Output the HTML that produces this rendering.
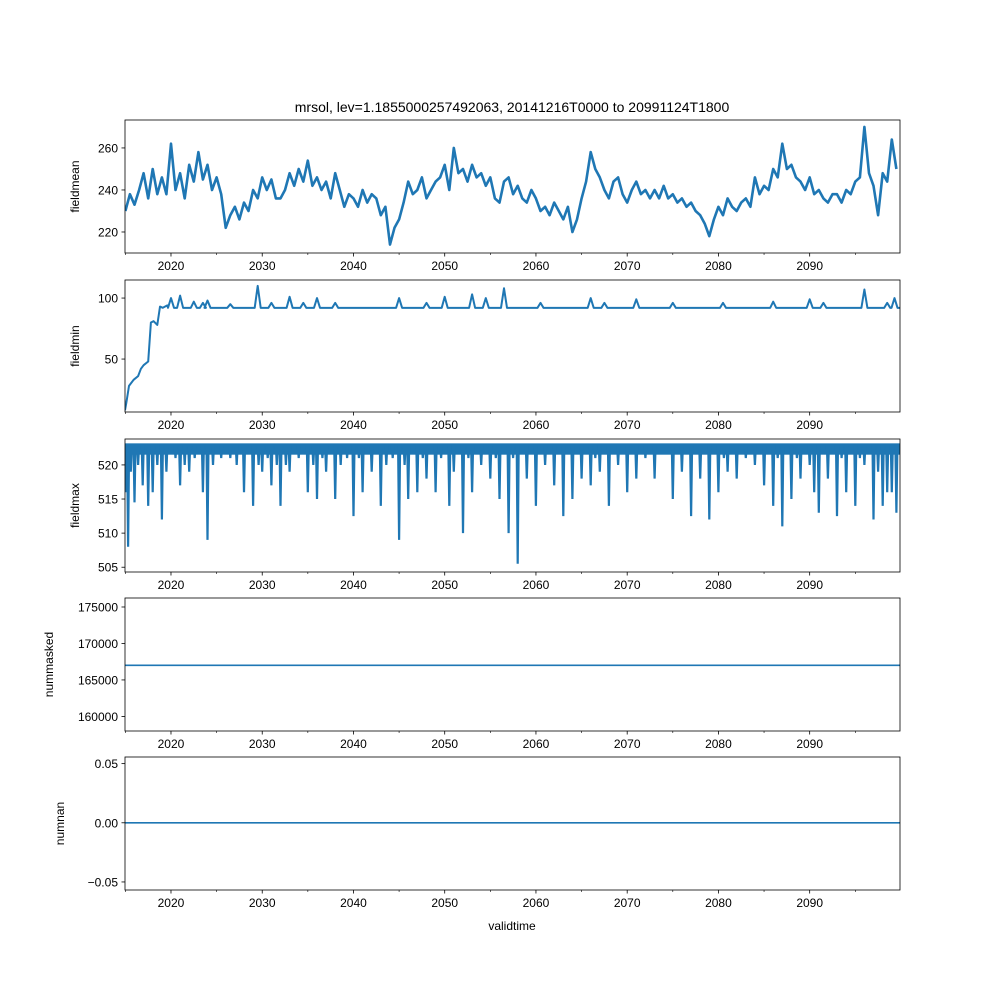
<!DOCTYPE html>
<html><head><meta charset="utf-8"><style>
body{margin:0;background:#fff}
svg{display:block;font-family:"Liberation Sans","DejaVu Sans",sans-serif}
</style></head><body>
<svg id="c" width="1000" height="1000" viewBox="0 0 1000 1000"></svg>
<script>
// ---- data ----
const meanStartYear = 2015.0;
const meanValues = [230,238,233,240,248,236,250,238,246,238,262,240,248,236,252,244,258,245,252,240,246,238,222,228,232,226,234,230,240,236,246,240,245,236,236,240,248,242,250,244,254,242,246,240,244,236,248,240,232,238,236,232,240,234,238,236,228,232,214,222,226,234,244,238,240,246,236,240,244,246,252,240,260,248,250,244,252,246,248,242,246,236,234,244,246,238,242,236,234,240,236,230,232,228,234,230,226,232,220,226,236,244,258,250,246,240,236,244,246,238,234,240,244,238,240,236,240,236,242,236,238,234,236,232,234,230,228,224,218,226,232,228,236,232,230,234,236,232,246,238,242,240,250,246,262,250,252,246,244,240,246,238,240,236,234,238,238,234,240,238,244,246,270,248,242,228,248,244,264,250];
const rampYears = [2014.96,2015.1,2015.4,2015.9,2016.4,2016.7,2017.0,2017.5,2017.8,2018.1,2018.5,2018.8,2019.1,2019.6];
const rampValues = [8,14,28,33,36,42,45,48,80,81,78,93,92,94];
const minBase = 92;
const minSpikeYears = [2020.0,2021.0,2022.5,2023.5,2024.0,2026.5,2029.5,2031.0,2033.0,2034.5,2036.0,2038.0,2045.0,2048.0,2050.0,2053.0,2054.5,2056.5,2060.5,2066.0,2067.5,2071.0,2075.0,2080.5,2086.0,2090.0,2091.5,2096.0,2098.5,2099.3];
const minSpikeValues = [100,102,97,96,98,95,110,96,101,96,100,96,100,96,101,103,100,108,96,100,96,99,96,96,97,99,96,107,96,100];
const maxBase = 523;
const spikeYears = [2015.1,2015.3,2015.6,2016.0,2016.4,2016.9,2017.5,2018.0,2018.5,2019.0,2019.5,2020.5,2021.0,2021.5,2022.0,2022.6,2023.5,2024.0,2024.6,2025.5,2026.5,2027.2,2028.0,2029.0,2029.6,2030.0,2030.6,2031.0,2031.6,2032.0,2032.6,2033.0,2034.0,2035.0,2035.6,2036.0,2036.6,2037.0,2038.0,2038.6,2039.3,2040.0,2040.6,2041.0,2042.0,2043.0,2043.6,2044.3,2045.0,2045.6,2046.0,2047.0,2047.6,2048.0,2049.0,2049.6,2050.5,2051.0,2052.0,2052.6,2053.0,2054.0,2055.0,2055.6,2056.0,2057.0,2057.5,2058.0,2059.0,2060.0,2061.0,2062.0,2063.0,2064.0,2065.0,2066.0,2066.5,2067.0,2068.0,2069.0,2070.0,2071.0,2072.0,2073.0,2075.0,2076.0,2077.0,2078.0,2079.0,2080.0,2080.6,2081.0,2082.0,2083.0,2084.0,2085.0,2086.0,2086.5,2087.0,2088.0,2088.6,2089.0,2090.0,2090.5,2091.0,2092.0,2093.0,2093.5,2094.0,2095.0,2095.5,2096.0,2097.0,2097.5,2098.0,2098.5,2099.0,2099.5];
const spikeValues = [516,508,519,514.5,520,517,514,516,520,512,519,521,517,520,519,521,516,509,520,521,521,520,516,514,520,519,521,517,520,514,520,519,521,516,520,515,521,519,515,520,521,512.5,521,516,519,514,520,521,509,520,515,516,521,518,516,521,514,519,510,521,516,520,518,521,515,510,521,505.5,518,514,520,517,512.5,515,518,517,521,519,514,520,516,518,521,518,515,519,512.5,518,512,516,521,519,518,521,520,517,514,521,511,515,521,518,520,516,513,518,512.5,521,516,514,521,520,512,519,514,516,516,513];
const massValue = 167000;
const nanValue = 0;
const xTicks = [2020,2030,2040,2050,2060,2070,2080,2090];
const xMinor = [2015,2025,2035,2045,2055,2065,2075,2085,2095];
const meanTicks = [220,240,260];
const minTicks = [50,100];
const maxTicks = [505,510,515,520];
const massTicks = [160000,165000,170000,175000];
const nanTicks = [-0.05,0,0.05];
const nanTickLabels = ["\u22120.05","0.00","0.05"];

// ---- layout ----
const NS="http://www.w3.org/2000/svg";
const svg=document.getElementById('c');
const L=125,R=900,X0=2014.96,X1=2099.9;
const xs=v=>L+(v-X0)/(X1-X0)*(R-L);
const col="#1f77b4";
function mk(tag,attrs,parent){const e=document.createElementNS(NS,tag);for(const k in attrs)e.setAttribute(k,attrs[k]);(parent||svg).appendChild(e);return e;}
function txt(s,x,y,anchor,size,parent,rot){const t=mk('text',{x:x,y:y,'text-anchor':anchor,'font-size':size,fill:'#000'},parent);if(rot)t.setAttribute('transform','rotate(-90 '+x+' '+y+')');t.textContent=s;return t;}

function panel(name,top,bot,y0,y1,ticks,labels,ylabel,ylabelX){
  const g=mk('g',{});
  
  
  const ys=v=>bot-(v-y0)/(y1-y0)*(bot-top);
  const cp=mk('clipPath',{id:'cp-'+name},g);
  mk('rect',{x:L,y:top,width:R-L,height:bot-top},cp);
  const plot=mk('g',{'clip-path':'url(#cp-'+name+')'},g);
  
  
  const xa=mk('g',{},g);
  
  
  xTicks.forEach(v=>{const x=xs(v);mk('line',{x1:x,x2:x,y1:bot,y2:bot+3.5,stroke:'#000','stroke-width':0.8},xa);txt(String(v),x,bot+17,'middle',12,xa);});
  xMinor.forEach(v=>{const x=xs(v);mk('line',{x1:x,x2:x,y1:bot,y2:bot+2,stroke:'#000','stroke-width':0.6},xa);});
  const ya=mk('g',{},g);
  
  
  ticks.forEach((v,i)=>{const y=ys(v);mk('line',{x1:L-3.5,x2:L,y1:y,y2:y,stroke:'#000','stroke-width':0.8},ya);txt(labels[i],L-7,y+4.5,'end',12,ya);});
  const yl=txt(ylabel,ylabelX,(top+bot)/2,'middle',12,g,true);
  
  
  const fr=mk('rect',{x:L,y:top,width:R-L,height:bot-top,fill:'none',stroke:'#000','stroke-width':0.8},g);
  
  
  return {plot,ys};
}

// title
const title=txt('mrsol, lev=1.1855000257492063, 20141216T0000 to 20991124T1800',512,112,'middle',14);



// panel 1
let p=panel('fieldmean',120,253,210,273.3,meanTicks,meanTicks.map(String),'fieldmean',79);
let d='';
meanValues.forEach((v,i)=>{d+=(i?'L':'M')+xs(meanStartYear+i*0.5).toFixed(1)+','+p.ys(v).toFixed(1);});
let path=mk('path',{d:d,fill:'none',stroke:col,'stroke-width':2.6,'stroke-linejoin':'round'},p.plot);



// panel 2
p=panel('fieldmin',280,412,6.6,114.8,minTicks,minTicks.map(String),'fieldmin',79);
d='';
rampYears.forEach((yr,i)=>{d+=(i?'L':'M')+xs(yr).toFixed(1)+','+p.ys(rampValues[i]).toFixed(1);});
const mb=p.ys(minBase);
minSpikeYears.forEach((yr,i)=>{const x=xs(yr);d+='L'+(x-3).toFixed(1)+','+mb+'L'+x.toFixed(1)+','+p.ys(minSpikeValues[i]).toFixed(1)+'L'+(x+3).toFixed(1)+','+mb;});
d+='L'+R+','+mb;
path=mk('path',{d:d,fill:'none',stroke:col,'stroke-width':2,'stroke-linejoin':'round'},p.plot);



// panel 3
p=panel('fieldmax',439,572,504.3,523.8,maxTicks,maxTicks.map(String),'fieldmax',79);
const yb=p.ys(maxBase);
const band=mk('rect',{x:L,y:yb-1,width:R-L,height:p.ys(521.5)-yb+1,fill:col},p.plot);


d='M'+L+','+yb;
spikeYears.forEach((yr,i)=>{const x=xs(yr);d+='L'+(x-1).toFixed(1)+','+yb+'L'+x.toFixed(1)+','+p.ys(spikeValues[i]).toFixed(1)+'L'+(x+1).toFixed(1)+','+yb;});
d+='L'+R+','+yb;
path=mk('path',{d:d,fill:'none',stroke:col,'stroke-width':2.2},p.plot);



// panel 4
p=panel('nummasked',598,731,158000,176233,massTicks,massTicks.map(String),'nummasked',53);
path=mk('line',{x1:L,x2:R,y1:p.ys(massValue),y2:p.ys(massValue),stroke:col,'stroke-width':1.6},p.plot);



// panel 5
p=panel('numnan',757,890,-0.0568,0.0556,nanTicks,nanTickLabels,'numnan',64);
path=mk('line',{x1:L,x2:R,y1:p.ys(nanValue),y2:p.ys(nanValue),stroke:col,'stroke-width':1.6},p.plot);



const xl=txt('validtime',512,930,'middle',12);


</script>
</body></html>
